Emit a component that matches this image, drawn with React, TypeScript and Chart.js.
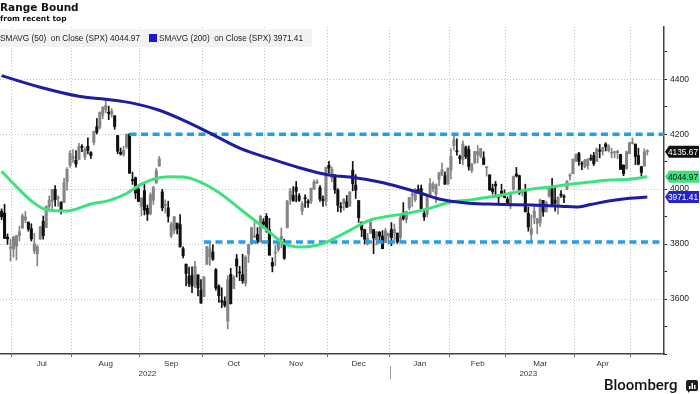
import React, { useEffect, useRef } from "react";
import { Chart, registerables } from "chart.js";

Chart.register(...registerables);

// ---------------- DATA ----------------
const dates: string[] = [
  "2022-06-27","2022-06-28","2022-06-29","2022-06-30",
  "2022-07-01","2022-07-05","2022-07-06","2022-07-07","2022-07-08","2022-07-11","2022-07-12","2022-07-13","2022-07-14","2022-07-15","2022-07-18","2022-07-19","2022-07-20","2022-07-21","2022-07-22","2022-07-25","2022-07-26","2022-07-27","2022-07-28","2022-07-29",
  "2022-08-01","2022-08-02","2022-08-03","2022-08-04","2022-08-05","2022-08-08","2022-08-09","2022-08-10","2022-08-11","2022-08-12","2022-08-15","2022-08-16","2022-08-17","2022-08-18","2022-08-19","2022-08-22","2022-08-23","2022-08-24","2022-08-25","2022-08-26","2022-08-29","2022-08-30","2022-08-31",
  "2022-09-01","2022-09-02","2022-09-06","2022-09-07","2022-09-08","2022-09-09","2022-09-12","2022-09-13","2022-09-14","2022-09-15","2022-09-16","2022-09-19","2022-09-20","2022-09-21","2022-09-22","2022-09-23","2022-09-26","2022-09-27","2022-09-28","2022-09-29","2022-09-30",
  "2022-10-03","2022-10-04","2022-10-05","2022-10-06","2022-10-07","2022-10-10","2022-10-11","2022-10-12","2022-10-13","2022-10-14","2022-10-17","2022-10-18","2022-10-19","2022-10-20","2022-10-21","2022-10-24","2022-10-25","2022-10-26","2022-10-27","2022-10-28","2022-10-31",
  "2022-11-01","2022-11-02","2022-11-03","2022-11-04","2022-11-07","2022-11-08","2022-11-09","2022-11-10","2022-11-11","2022-11-14","2022-11-15","2022-11-16","2022-11-17","2022-11-18","2022-11-21","2022-11-22","2022-11-23","2022-11-25","2022-11-28","2022-11-29","2022-11-30",
  "2022-12-01","2022-12-02","2022-12-05","2022-12-06","2022-12-07","2022-12-08","2022-12-09","2022-12-12","2022-12-13","2022-12-14","2022-12-15","2022-12-16","2022-12-19","2022-12-20","2022-12-21","2022-12-22","2022-12-23","2022-12-27","2022-12-28","2022-12-29","2022-12-30",
  "2023-01-03","2023-01-04","2023-01-05","2023-01-06","2023-01-09","2023-01-10","2023-01-11","2023-01-12","2023-01-13","2023-01-17","2023-01-18","2023-01-19","2023-01-20","2023-01-23","2023-01-24","2023-01-25","2023-01-26","2023-01-27","2023-01-30","2023-01-31",
  "2023-02-01","2023-02-02","2023-02-03","2023-02-06","2023-02-07","2023-02-08","2023-02-09","2023-02-10","2023-02-13","2023-02-14","2023-02-15","2023-02-16","2023-02-17","2023-02-21","2023-02-22","2023-02-23","2023-02-24","2023-02-27","2023-02-28",
  "2023-03-01","2023-03-02","2023-03-03","2023-03-06","2023-03-07","2023-03-08","2023-03-09","2023-03-10","2023-03-13","2023-03-14","2023-03-15","2023-03-16","2023-03-17","2023-03-20","2023-03-21","2023-03-22","2023-03-23","2023-03-24","2023-03-27","2023-03-28","2023-03-29","2023-03-30","2023-03-31",
  "2023-04-03","2023-04-04","2023-04-05","2023-04-06","2023-04-10","2023-04-11","2023-04-12","2023-04-13","2023-04-14","2023-04-17","2023-04-18","2023-04-19","2023-04-20","2023-04-21","2023-04-24","2023-04-25","2023-04-26","2023-04-27","2023-04-28",
  "2023-05-01","2023-05-02","2023-05-03","2023-05-04","2023-05-05","2023-05-08",
];

const opens: number[] = [
  3920,3913,3825,3785,
  3782,3792,3831,3858,3889,3880,3856,3775,3764,3818,3883,3860,3936,3955,3999,3966,3953,3951,4026,4087,
  4112,4105,4108,4155,4116,4156,4133,4170,4227,4225,4270,4290,4280,4273,4267,4195,4134,4126,4154,4199,4034,4041,4000,
  3937,3994,3930,3910,3960,4022,4084,3990,3940,3932,3830,3849,3876,3871,3783,3727,3683,3687,3651,3688,3633,
  3609,3726,3753,3771,3707,3647,3595,3591,3520,3690,3638,3746,3696,3689,3657,3764,3800,3825,3835,3808,3881,
  3901,3853,3733,3767,3780,3817,3810,3859,3963,3977,4007,3976,3920,3967,3956,3956,4000,4023,4005,3964,3957,
  4087,4040,4052,3996,3934,3947,3954,3939,4069,4015,3958,3880,3853,3810,3840,3853,3816,3843,3829,3805,3829,
  3853,3840,3840,3823,3910,3889,3932,3977,3961,3999,4003,3912,3909,3979,4002,3982,4036,4053,4049,4020,
  4070,4158,4137,4119,4106,4153,4144,4068,4096,4126,4119,4114,4078,4052,4002,4018,3973,3992,3977,
  3963,3938,3999,4055,4049,3987,3998,3912,3835,3895,3876,3878,3959,3917,3975,4003,3960,3939,3982,3974,3999,4047,4056,
  4102,4130,4094,4081,4085,4110,4122,4100,4140,4137,4164,4140,4130,4133,4132,4126,4087,4075,4129,
  4166,4164,4122,4082,4084,4136,
];

const highs: number[] = [
  3928,3945,3837,3818,
  3829,3832,3865,3910,3919,3880,3874,3839,3796,3863,3902,3939,3975,3999,4013,3976,3954,4039,4078,4140,
  4144,4140,4167,4162,4151,4187,4137,4211,4257,4281,4301,4325,4302,4293,4267,4195,4150,4156,4200,4203,4062,4044,4015,
  3970,4018,3942,3987,4010,4076,4119,3999,3961,3956,3880,3900,3876,3907,3790,3727,3716,3717,3737,3688,3671,
  3683,3791,3807,3797,3711,3652,3641,3608,3685,3712,3686,3762,3719,3763,3758,3800,3862,3887,3860,3905,3893,
  3911,3894,3750,3796,3813,3859,3818,3959,4002,4009,4028,3984,3955,3979,3962,4004,4034,4035,4013,3976,4080,
  4101,4080,4052,4002,3951,3966,3977,3990,4101,4053,3959,3880,3854,3839,3888,3853,3846,3846,3849,3858,3839,
  3878,3873,3840,3906,3951,3920,3970,3997,4003,4015,4015,3922,3973,4039,4026,4019,4060,4095,4063,4077,
  4148,4196,4183,4124,4176,4157,4157,4094,4138,4159,4148,4136,4081,4052,4018,4028,3978,4018,3997,
  3972,3990,4048,4079,4051,4000,4018,3934,3906,3937,3894,3964,3959,3956,4010,4039,4007,3972,3995,3979,4031,4057,4110,
  4128,4134,4100,4108,4110,4125,4134,4150,4163,4152,4169,4162,4148,4138,4142,4127,4089,4139,4170,
  4186,4164,4149,4083,4147,4143,
];

const lows: number[] = [
  3889,3820,3799,3738,
  3752,3742,3811,3858,3878,3847,3811,3765,3721,3817,3818,3860,3924,3928,3938,3937,3910,3951,3995,4079,
  4097,4080,4108,4136,4107,4128,4112,4161,4201,4219,4256,4278,4253,4262,4218,4129,4124,4120,4147,4057,4017,3965,3954,
  3903,3906,3886,3906,3944,4022,4083,3921,3913,3880,3823,3838,3837,3789,3750,3648,3645,3623,3641,3611,3584,
  3609,3726,3722,3741,3632,3588,3569,3571,3491,3582,3638,3680,3667,3657,3647,3733,3800,3824,3803,3808,3863,
  3843,3759,3699,3721,3773,3786,3744,3859,3944,3956,3954,3955,3907,3933,3933,3947,3999,4020,3955,3937,3939,
  4057,4026,3984,3918,3916,3923,3933,3937,3994,3966,3879,3827,3800,3796,3838,3765,3797,3813,3783,3805,3800,
  3794,3815,3802,3809,3887,3877,3925,3937,3955,3984,3926,3886,3899,3971,3990,3950,4013,4049,4017,4015,
  4037,4142,4124,4093,4088,4111,4069,4060,4092,4095,4114,4089,4047,3995,3982,3978,3943,3974,3968,
  3940,3928,3995,4044,3980,3975,3916,3847,3809,3874,3838,3864,3901,3917,3971,3936,3920,3909,3970,3951,3999,4033,4056,
  4099,4086,4071,4077,4073,4104,4086,4100,4114,4124,4139,4135,4114,4114,4111,4071,4049,4072,4128,
  4164,4089,4088,4048,4084,4124,
];

const closes: number[] = [
  3900,3821,3819,3785,
  3825,3831,3845,3903,3899,3855,3819,3801,3790,3863,3831,3937,3960,3999,3962,3967,3921,4024,4072,4130,
  4119,4091,4155,4152,4145,4140,4122,4210,4207,4280,4297,4305,4275,4284,4228,4138,4128,4141,4200,4058,4031,3986,3955,
  3967,3924,3909,3980,4006,4067,4110,3932,3946,3901,3873,3900,3856,3790,3758,3693,3655,3647,3719,3640,3586,
  3679,3791,3783,3745,3640,3612,3589,3577,3670,3583,3678,3720,3695,3666,3752,3798,3859,3830,3808,3901,3872,
  3856,3760,3720,3771,3807,3828,3749,3957,3993,3957,3992,3959,3947,3965,3950,4003,4027,4026,3964,3958,4080,
  4076,4072,3998,3941,3933,3963,3934,3990,4020,3996,3896,3852,3818,3822,3879,3822,3845,3829,3783,3849,3840,
  3824,3853,3808,3895,3893,3919,3970,3983,3999,3991,3928,3899,3973,4020,4017,4016,4060,4071,4018,4077,
  4119,4180,4136,4111,4164,4118,4082,4090,4137,4136,4148,4090,4079,3997,3991,4012,3970,3982,3970,
  3951,3982,4046,4048,3986,3992,3918,3862,3856,3920,3892,3960,3917,3951,4003,3937,3949,3971,3977,3971,4028,4051,4109,
  4124,4101,4091,4105,4110,4109,4092,4146,4138,4151,4154,4155,4130,4133,4137,4072,4056,4136,4169,
  4168,4119,4091,4061,4136,4136,
];

// Moving averages (trading-day index -> value)
const sma50DayIndex: number[] = [0,6,10,15,22,30,36,42,46,51,56,61,67,73,82,89,95,100,106,110,117,124,130,137,144,151,157,164,171,178,184,191,198,204,211,217];
const sma50Values: number[] = [4065,3998,3957,3925,3920,3946,3958,3984,4012,4036,4045,4044,4025,3988,3912,3853,3802,3789,3796,3811,3850,3888,3901,3913,3931,3953,3960,3971,3985,4000,4007,4018,4026,4033,4036,4045];
const sma200DayIndex: number[] = [0,13,26,35,44,53,61,70,80,90,100,110,117,127,134,141,147,151,157,166,178,188,193,198,204,211,217];
const sma200Values: number[] = [4413,4371,4338,4327,4313,4287,4251,4204,4149,4112,4078,4051,4044,4026,4007,3985,3964,3956,3949,3945,3942,3938,3935,3944,3957,3967,3971];

const resistanceLevel = 4200;
const resistanceFrom = "2022-08-26";
const supportLevel = 3808;
const supportFrom = "2022-10-03";

const lastPrice = 4135.67;
const lastSma50 = 4044.97;
const lastSma200 = 3971.41;

const yTickValues: number[] = [3400,3500,3600,3700,3800,3900,4000,4100,4200,4300,4400,4500];
const yLabeledValues: number[] = [3600,3800,4000,4200,4400];
const monthNames: string[] = ["Jan","Feb","Mar","Apr","May","Jun","Jul","Aug","Sep","Oct","Nov","Dec"];
const yearLabels: string[] = ["2022","2023"];
const yearLabelDates: string[] = ["2022-09-06","2023-03-10"];

const titleText = "Range Bound";
const subtitleText = "from recent top";
const legend50Text = "SMAVG (50)  on Close (SPX)";
const legend200Text = "SMAVG (200)  on Close (SPX)";

// ---------------- STYLE ----------------
const UP_COLOR = "#858585";
const DOWN_COLOR = "#111111";
const GREEN = "#3ee27c";
const BLUE = "#1c1ca4";
const TAG_BLUE = "#2222d2";
const DASH_COLOR = "#22a0e6";
const GRID_COLOR = "#c4c4c4";
const X_MIN = -0.53;
const X_MAX = 222.6;

const monthBoundaries: number[] = [];
for (let i = 1; i < dates.length; i++) {
  if (dates[i].slice(0, 7) !== dates[i - 1].slice(0, 7)) monthBoundaries.push(i - 0.5);
}

const overlayPlugin = {
  id: "overlay",
  afterDraw(chart: any) {
    const ctx: CanvasRenderingContext2D = chart.ctx;
    const xs = chart.scales.x;
    const ys = chart.scales.y;
    const area = chart.chartArea;
    ctx.save();

    // month labels
    ctx.font = '8px "Liberation Sans", Arial, sans-serif';
    ctx.fillStyle = "#333";
    ctx.textAlign = "center";
    ctx.textBaseline = "middle";
    for (let k = 0; k < monthBoundaries.length - 1; k++) {
      const a = monthBoundaries[k];
      const b = monthBoundaries[k + 1];
      const m = parseInt(dates[Math.ceil(a)].slice(5, 7), 10) - 1;
      const px = (xs.getPixelForValue(a) + xs.getPixelForValue(b)) / 2;
      ctx.fillText(monthNames[m], px, 364);
    }
    // years
    yearLabels.forEach((yl, k) => {
      const i = dates.indexOf(yearLabelDates[k]);
      ctx.fillText(yl, xs.getPixelForValue(i), 374);
    });
    // year separator
    for (let i = 1; i < dates.length; i++) {
      if (dates[i].slice(0, 4) !== dates[i - 1].slice(0, 4)) {
        const px = Math.round(xs.getPixelForValue(i - 0.5)) + 0.5;
        ctx.strokeStyle = "#9a9a9a";
        ctx.lineWidth = 1;
        ctx.beginPath();
        ctx.moveTo(px, 366);
        ctx.lineTo(px, 379);
        ctx.stroke();
      }
    }

    // legend box
    ctx.fillStyle = "#f2f2f2";
    ctx.fillRect(area.left, 29, 312, 18);
    ctx.fillStyle = GREEN;
    ctx.fillRect(area.left - 9, 34, 8, 8);
    ctx.fillStyle = "#1a1acc";
    ctx.fillRect(149, 34, 8, 8);
    ctx.fillStyle = "#222";
    ctx.textAlign = "left";
    ctx.font = '8.5px "Liberation Sans", Arial, sans-serif';
    const t1 = legend50Text + " " + lastSma50.toFixed(2);
    const t2 = legend200Text + " " + lastSma200.toFixed(2);
    ctx.fillText(t1, area.left, 38.5, 140);
    ctx.fillText(t2, 159, 38.5, 144);

    // value tags on the right axis
    const tags = [
      { v: lastPrice, bg: "#111", fg: "#fff" },
      { v: lastSma50, bg: GREEN, fg: "#111" },
      { v: lastSma200, bg: TAG_BLUE, fg: "#fff" },
    ];
    ctx.font = '8.5px "Liberation Sans", Arial, sans-serif';
    tags.forEach((t) => {
      const y = ys.getPixelForValue(t.v);
      const x0 = area.right + 1;
      ctx.fillStyle = t.bg;
      ctx.beginPath();
      ctx.moveTo(x0, y);
      ctx.lineTo(x0 + 4, y - 6);
      ctx.lineTo(699, y - 6);
      ctx.lineTo(699, y + 6);
      ctx.lineTo(x0 + 4, y + 6);
      ctx.closePath();
      ctx.fill();
      ctx.fillStyle = t.fg;
      ctx.textAlign = "right";
      ctx.fillText(t.v.toFixed(2), 698, y + 0.5, 30);
    });

    // Bloomberg logo mark
    ctx.fillStyle = "#1e1e1e";
    const lx = 686, ly = 380;
    ctx.beginPath();
    ctx.moveTo(lx + 2, ly);
    ctx.lineTo(lx + 10, ly);
    ctx.quadraticCurveTo(lx + 12, ly, lx + 12, ly + 2);
    ctx.lineTo(lx + 12, ly + 9);
    ctx.quadraticCurveTo(lx + 12, ly + 11, lx + 10, ly + 11);
    ctx.lineTo(lx + 4, ly + 11);
    ctx.lineTo(lx + 2, ly + 13);
    ctx.lineTo(lx + 2, ly + 11);
    ctx.quadraticCurveTo(lx, ly + 11, lx, ly + 9);
    ctx.lineTo(lx, ly + 2);
    ctx.quadraticCurveTo(lx, ly, lx + 2, ly);
    ctx.fill();
    ctx.fillStyle = "#fff";
    ctx.fillRect(lx + 3, ly + 6, 1.5, 3);
    ctx.fillRect(lx + 5.5, ly + 3, 1.5, 6);
    ctx.fillRect(lx + 8, ly + 5, 1.5, 4);

    ctx.restore();
  },
};

export default function App() {
  const canvasRef = useRef<HTMLCanvasElement | null>(null);

  useEffect(() => {
    if (!canvasRef.current) return;
    const colors = dates.map((_, i) => (closes[i] >= opens[i] ? UP_COLOR : DOWN_COLOR));
    const wickData = dates.map((_, i) => ({ x: i, y: [lows[i], highs[i]] }));
    const bodyData = dates.map((_, i) => ({
      x: i,
      y: [Math.min(opens[i], closes[i]), Math.max(opens[i], closes[i])],
    }));
    const sma50Data = sma50DayIndex.map((d, k) => ({ x: d, y: sma50Values[k] }));
    const sma200Data = sma200DayIndex.map((d, k) => ({ x: d, y: sma200Values[k] }));
    const rIdx = dates.indexOf(resistanceFrom);
    const sIdx = dates.indexOf(supportFrom);

    const chart = new Chart(canvasRef.current, {
      type: "bar",
      data: {
        datasets: [
          {
            type: "line",
            data: sma200Data as any,
            borderColor: BLUE,
            borderWidth: 3,
            pointRadius: 0,
            cubicInterpolationMode: "monotone",
            order: 1,
          },
          {
            type: "line",
            data: sma50Data as any,
            borderColor: GREEN,
            borderWidth: 3,
            pointRadius: 0,
            cubicInterpolationMode: "monotone",
            order: 1,
          },
          {
            type: "line",
            data: [{ x: rIdx, y: resistanceLevel }, { x: X_MAX, y: resistanceLevel }] as any,
            borderColor: DASH_COLOR,
            borderWidth: 3.5,
            borderDash: [7, 4.5],
            pointRadius: 0,
            order: 2,
          },
          {
            type: "line",
            data: [{ x: sIdx, y: supportLevel }, { x: X_MAX, y: supportLevel }] as any,
            borderColor: DASH_COLOR,
            borderWidth: 3.5,
            borderDash: [7, 4.5],
            pointRadius: 0,
            order: 2,
          },
          {
            type: "bar",
            data: wickData as any,
            backgroundColor: colors,
            barThickness: 1,
            grouped: false,
            order: 4,
          } as any,
          {
            type: "bar",
            data: bodyData as any,
            backgroundColor: colors,
            barThickness: 2.4,
            minBarLength: 1,
            grouped: false,
            order: 3,
          } as any,
        ],
      },
      options: {
        animation: false,
        responsive: false,
        maintainAspectRatio: false,
        events: [],
        layout: { padding: { top: 27, left: 0, right: 0, bottom: 0 } },
        plugins: { legend: { display: false }, tooltip: { enabled: false }, title: { display: false } },
        scales: {
          x: {
            type: "linear",
            min: X_MIN,
            max: X_MAX,
            offset: false,
            afterBuildTicks: (s: any) => {
              s.ticks = monthBoundaries.map((v) => ({ value: v }));
            },
            afterFit: (s: any) => {
              s.height = 40;
            },
            grid: {
              offset: false,
              color: GRID_COLOR,
              lineWidth: 1,
              tickLength: 3,
              tickColor: "#666",
            },
            border: { color: "#444", width: 1.5, dash: [1, 2] },
            ticks: { display: false },
          } as any,
          y: {
            type: "linear",
            position: "right",
            min: 3400,
            max: 4590,
            afterBuildTicks: (s: any) => {
              s.ticks = yTickValues.map((v) => ({ value: v }));
            },
            afterFit: (s: any) => {
              s.width = 36;
            },
            grid: {
              color: (c: any) => (c.tick && yLabeledValues.includes(c.tick.value) ? GRID_COLOR : "rgba(0,0,0,0)"),
              tickColor: "#222",
              tickLength: 3,
              lineWidth: 1,
            },
            border: { color: "#444", width: 1.5, dash: [1, 2] },
            ticks: {
              autoSkip: false,
              padding: 3,
              color: "#222",
              font: { size: 8.5, family: '"Liberation Sans", Arial, sans-serif' },
              callback: (v: any) => (yLabeledValues.includes(Number(v)) ? String(v) : ""),
            },
          } as any,
        },
      },
      plugins: [overlayPlugin],
    });
    return () => chart.destroy();
  }, []);

  return (
    <div style={{ position: "fixed", left: 0, top: 0, width: 700, height: 394, background: "#fff", overflow: "hidden" }}>
      <canvas ref={canvasRef} width={700} height={394} style={{ position: "absolute", left: 0, top: 0, width: 700, height: 394 }} />
      <div
        style={{
          position: "absolute",
          left: 0,
          top: 1,
          fontFamily: '"DejaVu Sans", Verdana, sans-serif',
          fontWeight: "bold",
          fontSize: "10.5px",
          lineHeight: "13px",
          color: "#111",
          whiteSpace: "nowrap",
        }}
      >
        {titleText}
      </div>
      <div
        style={{
          position: "absolute",
          left: 0,
          top: 14,
          fontFamily: '"DejaVu Sans", Verdana, sans-serif',
          fontWeight: "bold",
          fontSize: "7.5px",
          lineHeight: "9px",
          color: "#111",
          whiteSpace: "nowrap",
        }}
      >
        {subtitleText}
      </div>
      <div
        style={{
          position: "absolute",
          left: 604,
          top: 378,
          fontFamily: 'Roboto, "Liberation Sans", Arial, sans-serif',
          fontWeight: 500,
          fontSize: "15px",
          lineHeight: "15px",
          color: "#111",
          whiteSpace: "nowrap",
        }}
      >
        Bloomberg
      </div>
    </div>
  );
}
